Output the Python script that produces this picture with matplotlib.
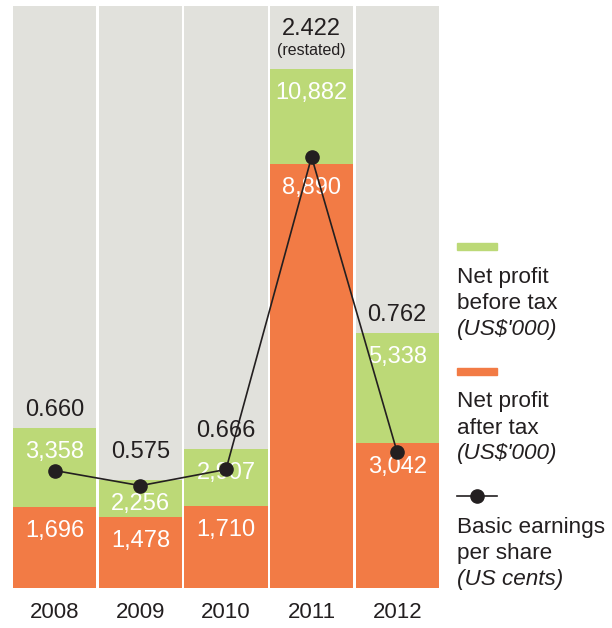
import matplotlib
matplotlib.use('Agg')
import matplotlib.pyplot as plt
from matplotlib.lines import Line2D
from matplotlib.patches import Rectangle

plt.rcParams['font.family'] = ['Liberation Sans', 'DejaVu Sans']

years = ['2008', '2009', '2010', '2011', '2012']
before_tax = [3358, 2256, 2907, 10882, 5338]
after_tax = [1696, 1478, 1710, 8890, 3042]
eps = [0.660, 0.575, 0.666, 2.422, 0.762]
eps_labels = ['0.660', '0.575', '0.666', '2.422', '0.762']

grey = '#e1e1dc'
green = '#bcd977'
orange = '#f27b45'
dark = '#231f20'

W, H = 612, 628
fig = plt.figure(figsize=(W / 100, H / 100), dpi=100)
ax = fig.add_axes([12 / W, 40 / H, 428 / W, 582 / H])
ax2 = ax.twinx()

x = range(len(years))
ymax = 12200
bw = 0.972
ax.bar(x, [ymax] * len(years), width=bw, color=grey, zorder=1)
ax.bar(x, before_tax, width=bw, color=green, zorder=2)
ax.bar(x, after_tax, width=bw, color=orange, zorder=3)
ax.set_xlim(-0.5, len(years) - 0.5)
ax.set_ylim(0, ymax)

for i in x:
    ax.annotate(f'{before_tax[i]:,}', (i, before_tax[i]), xytext=(0, -24),
                textcoords='offset pixels', ha='center', va='center',
                color='white', fontsize=17, zorder=5)
    ax.annotate(f'{after_tax[i]:,}', (i, after_tax[i]), xytext=(0, -24),
                textcoords='offset pixels', ha='center', va='center',
                color='white', fontsize=17, zorder=5)
    if years[i] == '2011':
        ax.annotate('(restated)', (i, before_tax[i]), xytext=(0, 18),
                    textcoords='offset pixels', ha='center', va='center',
                    color=dark, fontsize=11.5)
        off = 40
    elif years[i] == '2009':
        off = 28
    else:
        off = 18
    ax.annotate(eps_labels[i], (i, before_tax[i]), xytext=(0, off),
                textcoords='offset pixels', ha='center', va='center',
                color=dark, fontsize=17)

ax2.plot(list(x), eps, color=dark, lw=1.2, marker='o', markersize=9.5, zorder=6)
ax2.set_ylim(0, 3.27)

for a in (ax, ax2):
    a.set_yticks([])
    for s in a.spines.values():
        s.set_visible(False)
ax.set_xticks(list(x))
ax.set_xticklabels(years, fontsize=16, color=dark)
ax.tick_params(axis='x', length=0, pad=10)

# legend
lx = 457 / W
fig.patches.append(Rectangle((lx, 1 - 250 / H), 40 / W, 7 / H,
                             transform=fig.transFigure, color=green))
fig.patches.append(Rectangle((lx, 1 - 375 / H), 40 / W, 7 / H,
                             transform=fig.transFigure, color=orange))
fig.lines.append(Line2D([lx, lx + 40 / W], [1 - 496 / H] * 2, transform=fig.transFigure,
                        color=dark, lw=1.2))
fig.lines.append(Line2D([lx + 20 / W], [1 - 496 / H], transform=fig.transFigure,
                        color=dark, marker='o', markersize=9.5))

legend_rows = [
    (277, 'Net profit', 'normal'), (303, 'before tax', 'normal'), (329, "(US$'000)", 'italic'),
    (402, 'Net profit', 'normal'), (428, 'after tax', 'normal'), (454, "(US$'000)", 'italic'),
    (528, 'Basic earnings', 'normal'), (553, 'per share', 'normal'), (580, '(US cents)', 'italic'),
]
for y, t, st in legend_rows:
    fig.text(lx, 1 - y / H, t, fontsize=16.2, color=dark, style=st, va='center', ha='left')

fig.savefig('out.png', dpi=100)
